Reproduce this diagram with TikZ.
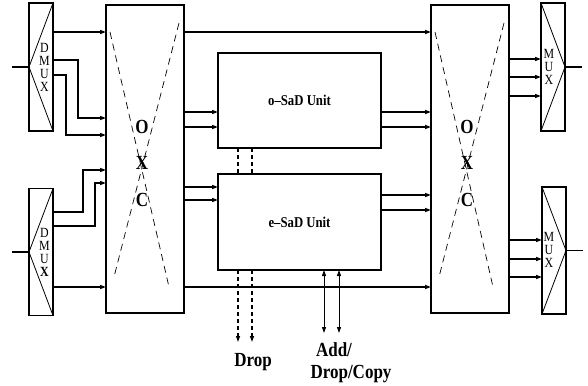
\documentclass[tikz,border=0pt]{standalone}
\usepackage{fontspec}
\setmainfont{Liberation Serif}
\newfontfamily\narrowserif[FakeStretch=0.85, Ligatures=TeX]{Liberation Serif}
\usetikzlibrary{arrows.meta, positioning}

\begin{document}
\begin{tikzpicture}[x=1pt, y=-1pt,
    box/.style={draw, line width=1.6pt, inner sep=0pt, outer sep=0pt},
    arrow/.style={-{Triangle[length=6pt, width=4pt]}, line width=1.3pt},
    wire/.style={line width=1.3pt},
    cross/.style={dash pattern=on 7pt off 5pt, line width=0.7pt},
    slant/.style={line width=0.8pt},
    link/.style={dash pattern=on 4pt off 3pt, line width=1.2pt},
    both/.style={{Triangle[length=6pt, width=4pt]}-{Triangle[length=6pt, width=4pt]}, line width=0.9pt},
    muxtext/.style={font=\narrowserif\fontsize{14}{13}\selectfont, align=center, inner sep=0pt},
    oxctext/.style={font=\narrowserif\fontsize{20}{36.5}\selectfont\bfseries, align=center, inner sep=0pt},
    unit/.style={font=\narrowserif\fontsize{15}{16}\selectfont\bfseries},
    port/.style={font=\narrowserif\fontsize{20}{20}\selectfont\bfseries, inner sep=0pt}
]
\useasboundingbox (0,0) rectangle (588,385);

% --- Left DMUX ---
\node[box, minimum width=24pt, minimum height=128pt] (dmuxT) at (41,67) {};
\node[box, minimum width=24pt, minimum height=127pt] (dmuxB) at (41,252) {};
\draw[slant] (dmuxT.north east) -- (dmuxT.west) -- (dmuxT.south east);
\draw[slant] (dmuxB.north east) -- (dmuxB.west) -- (dmuxB.south east);
\node[muxtext] (dmuxTlbl) at (44.5,67) {D\\M\\U\\X};
\node[muxtext] (dmuxBlbl) at (44.5,252) {D\\M\\U\\\textbf{X}};
\coordinate (inT) at (12,67);
\coordinate (inB) at (12,252);
\draw[wire] (inT) -- (dmuxT.west);
\draw[wire] (inB) -- (dmuxB.west);

% --- Left OXC ---
\node[box, minimum width=78pt, minimum height=308pt] (oxcL) at (145,159) {};
\draw[cross] (110,32) -- (169,287);
\draw[cross] (179,23) -- (114,277);
\node[oxctext] (oxcLlbl) at (142,163) {O\\X\\C};

\draw[arrow] (dmuxT.east |- 0,32) -- (oxcL.west |- 0,32);
\draw[arrow] (dmuxT.east |- 0,60) -| (78,118) -- (oxcL.west |- 0,118);
\draw[arrow] (dmuxT.east |- 0,75) -| (66,135) -- (oxcL.west |- 0,135);
\draw[arrow] (dmuxB.east |- 0,212) -| (83,170) -- (oxcL.west |- 0,170);
\draw[arrow] (dmuxB.east |- 0,226) -| (95,183) -- (oxcL.west |- 0,183);
\draw[arrow] (dmuxB.east |- 0,287) -- (oxcL.west |- 0,287);

% --- SaD Units ---
\node[box, unit, minimum width=163pt, minimum height=95pt] (osad) at (299.5,100.5) {o--SaD Unit};
\node[box, unit, minimum width=163pt, minimum height=96pt] (esad) at (299.5,222) {e--SaD Unit};

% --- Right OXC ---
\node[box, minimum width=78pt, minimum height=308pt] (oxcR) at (470,159) {};
\draw[cross] (435,32) -- (493,287);
\draw[cross] (504,23) -- (439,277);
\node[oxctext] (oxcRlbl) at (467,163) {O\\X\\C};

\draw[arrow] (oxcL.east |- 0,32) -- (oxcR.west |- 0,32);
\draw[arrow] (oxcL.east |- 0,112) -- (osad.west |- 0,112);
\draw[arrow] (oxcL.east |- 0,127) -- (osad.west |- 0,127);
\draw[arrow] (oxcL.east |- 0,187) -- (esad.west |- 0,187);
\draw[arrow] (oxcL.east |- 0,200) -- (esad.west |- 0,200);
\draw[arrow] (osad.east |- 0,112) -- (oxcR.west |- 0,112);
\draw[arrow] (osad.east |- 0,127) -- (oxcR.west |- 0,127);
\draw[arrow] (esad.east |- 0,195) -- (oxcR.west |- 0,195);
\draw[arrow] (esad.east |- 0,210) -- (oxcR.west |- 0,210);
\draw[arrow] (oxcL.east |- 0,287) -- (oxcR.west |- 0,287);

% Drop and Add/Drop/Copy ports
\draw[link] (osad.south -| 238,0) -- (esad.north -| 238,0);
\draw[link] (osad.south -| 252,0) -- (esad.north -| 252,0);
\coordinate (dropA) at (238,342);
\coordinate (dropB) at (252,342);
\coordinate (addA) at (324,333);
\coordinate (addB) at (339,333);
\draw[link, -{Triangle[length=6pt, width=4pt]}] (esad.south -| dropA) -- (dropA);
\draw[link, -{Triangle[length=6pt, width=4pt]}] (esad.south -| dropB) -- (dropB);
\draw[both] (esad.south -| addA) -- (addA);
\draw[both] (esad.south -| addB) -- (addB);
\node[port] (drop) at (253,362) {Drop};
\node[port] (add) at (334,350) {Add/};
\node[port] (copy) at (351,374) {Drop/Copy};

% --- Right MUX ---
\node[box, minimum width=24pt, minimum height=128pt] (muxT) at (553,67) {};
\node[box, minimum width=24pt, minimum height=127pt] (muxB) at (554,250.5) {};
\draw[slant] (muxT.north west) -- (muxT.east) -- (muxT.south west);
\draw[slant] (muxB.north west) -- (muxB.east) -- (muxB.south west);
\node[muxtext] (muxTlbl) at (549,67) {M\\U\\X};
\node[muxtext] (muxBlbl) at (549,250) {M\\U\\X};
\coordinate (outT) at (582,67);
\coordinate (outB) at (583,250.5);
\draw[wire] (muxT.east) -- (outT);
\draw[wire] (muxB.east) -- (outB);

\draw[arrow] (oxcR.east |- 0,59) -- (muxT.west |- 0,59);
\draw[arrow] (oxcR.east |- 0,77) -- (muxT.west |- 0,77);
\draw[arrow] (oxcR.east |- 0,96) -- (muxT.west |- 0,96);
\draw[arrow] (oxcR.east |- 0,240) -- (muxB.west |- 0,240);
\draw[arrow] (oxcR.east |- 0,259) -- (muxB.west |- 0,259);
\draw[arrow] (oxcR.east |- 0,277) -- (muxB.west |- 0,277);

\end{tikzpicture}
\end{document}
